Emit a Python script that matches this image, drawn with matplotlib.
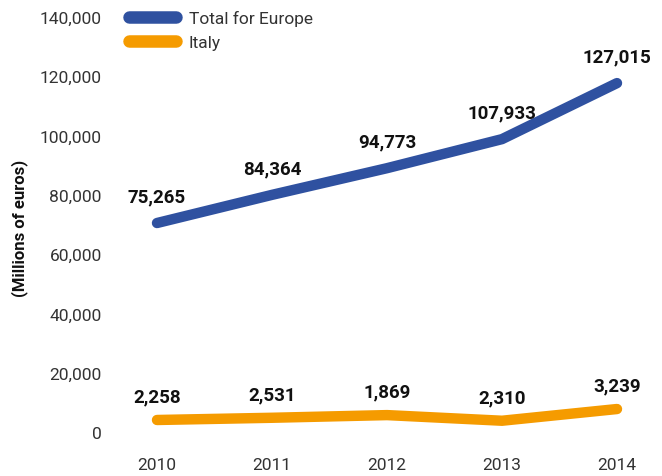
import matplotlib
matplotlib.use("Agg")
import matplotlib.pyplot as plt
from matplotlib.lines import Line2D

plt.rcParams['font.family'] = ['Roboto', 'DejaVu Sans']

years = ["2010", "2011", "2012", "2013", "2014"]
# plotted positions
europe_vals = [70500, 80000, 89000, 98800, 117700]
italy_vals = [4050, 4800, 5700, 3800, 7750]
# data labels shown on the chart
europe_labels = ["75,265", "84,364", "94,773", "107,933", "127,015"]
italy_labels = ["2,258", "2,531", "1,869", "2,310", "3,239"]

blue = "#2f51a0"
orange = "#f59b00"

fig = plt.figure(figsize=(6.62, 4.77), dpi=100)
ax = fig.add_axes([110 / 662, 44 / 477, 550 / 662, 415 / 477])

x = list(range(len(years)))
ax.plot(x, europe_vals, color=blue, lw=7.5, solid_capstyle="round", solid_joinstyle="round")
ax.plot(x, italy_vals, color=orange, lw=7.5, solid_capstyle="round", solid_joinstyle="round")

for xi, v, lab in zip(x, europe_vals, europe_labels):
    ax.annotate(lab, (xi, v), xytext=(0, 19), textcoords="offset points",
                ha="center", va="center", fontsize=13.5, fontweight="bold", color="#111111")
for xi, v, lab in zip(x, italy_vals, italy_labels):
    ax.annotate(lab, (xi, v), xytext=(0, 17), textcoords="offset points",
                ha="center", va="center", fontsize=13.5, fontweight="bold", color="#111111")

ax.set_xlim(-47 / 115, 4 + 43 / 115)
ax.set_ylim(0, 140000)
ax.set_xticks(x)
ax.set_xticklabels(years)
ax.set_yticks(range(0, 140001, 20000))
ax.set_yticklabels([f"{v:,}" for v in range(0, 140001, 20000)])
ax.tick_params(axis="both", length=0, labelsize=12.5, labelcolor="#333333")
ax.tick_params(axis="x", pad=18)
ax.tick_params(axis="y", pad=6)
for s in ax.spines.values():
    s.set_visible(False)

fig.text(20 / 662, 1 - 228 / 477, "(Millions of euros)", rotation=90, ha="center", va="center",
         fontsize=12, fontweight="bold", color="#111111")

handles = [Line2D([], [], color=blue, lw=9, solid_capstyle="round"),
           Line2D([], [], color=orange, lw=9, solid_capstyle="round")]
fig.legend(handles, ["Total for Europe", "Italy"], loc="upper left",
           bbox_to_anchor=(113 / 662, 1 + 5 / 477), frameon=False, fontsize=12.5,
           handlelength=2.7, handletextpad=0.75, labelspacing=0.55, labelcolor="#333333")

fig.savefig("out.png", dpi=100)
